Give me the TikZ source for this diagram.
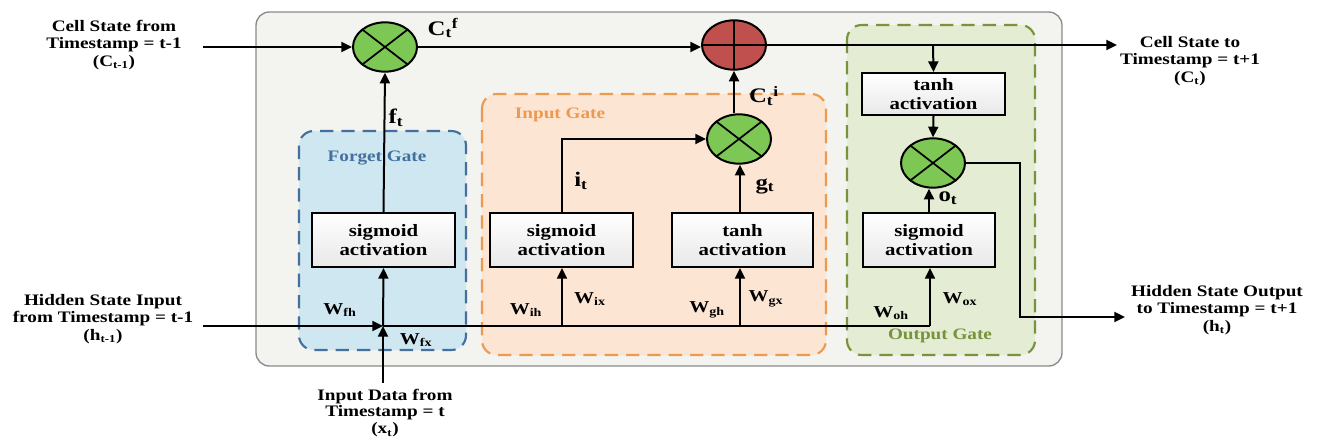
\documentclass[tikz,border=0pt]{standalone}
\usepackage{fontspec}
\setmainfont{Liberation Serif}[FakeStretch=1.2]
\usetikzlibrary{shapes.geometric,arrows.meta}
\definecolor{outerfill}{HTML}{F3F3EF}
\definecolor{outerline}{HTML}{8A8A8A}
\definecolor{fgfill}{HTML}{CFE7F0}
\definecolor{fgline}{HTML}{43709F}
\definecolor{igfill}{HTML}{FDE5D3}
\definecolor{igline}{HTML}{EC9A50}
\definecolor{ogfill}{HTML}{E4ECD4}
\definecolor{ogline}{HTML}{77933C}
\definecolor{mulfill}{HTML}{7DC855}
\definecolor{addfill}{HTML}{C0504D}
\tikzset{
  conn/.style={line width=1.5pt, -{Triangle[length=8pt,width=7.5pt]}},
  plainline/.style={line width=1.5pt},
  actbox/.style={draw, line width=1.5pt, top color=white, bottom color=gray!18,
     minimum width=107pt, minimum height=40.5pt, align=center, inner sep=1pt,
     font=\fontsize{13}{14.5}\selectfont\bfseries},
  mulop/.style={ellipse, draw, line width=1.5pt, fill=mulfill, minimum width=48pt,
     minimum height=37pt, inner sep=0pt,
     path picture={\draw[line width=1.3pt] (path picture bounding box.north west) -- (path picture bounding box.south east)
                   (path picture bounding box.north east) -- (path picture bounding box.south west);}},
  addop/.style={ellipse, draw, line width=1.5pt, fill=addfill, minimum width=48pt,
     minimum height=37pt, inner sep=0pt,
     path picture={\draw[line width=1.3pt] (path picture bounding box.north) -- (path picture bounding box.south)
                   (path picture bounding box.east) -- (path picture bounding box.west);}},
  outtext/.style={align=center, font=\fontsize{12}{13}\selectfont\bfseries, inner sep=0pt},
  symlabel/.style={font=\fontsize{15.5}{16}\selectfont\bfseries, inner sep=0pt},
  wlabel/.style={font=\fontsize{12.5}{13}\selectfont\bfseries, inner sep=0pt},
  gatelabel/.style={font=\fontsize{12}{13}\selectfont\bfseries, inner sep=0pt},
  gatebox/.style={line width=1.6pt, dash pattern=on 10pt off 6pt, rounded corners=11pt},
}
\begin{document}
\begin{tikzpicture}[x=0.75pt,y=-0.75pt]
\useasboundingbox (0,0) rectangle (1317,440);
% outer cell
\draw[outerline, fill=outerfill, line width=1pt, rounded corners=10pt] (256,12) rectangle (1062,366);
% gates
\draw[gatebox, draw=fgline, fill=fgfill] (299,131) rectangle (466,350);
\draw[gatebox, draw=igline, fill=igfill] (482,94) rectangle (826,355);
\draw[gatebox, draw=ogline, fill=ogfill] (847,25) rectangle (1035,355);
\node[gatelabel, text=fgline] (lfg) at (377,158) {Forget Gate};
\node[gatelabel, text=igline] (lig) at (560,115) {Input Gate};
\node[gatelabel, text=ogline] (log) at (940,336) {Output Gate};
% operators
\node[mulop] (mf) at (385,47) {};
\node[addop] (add) at (734,45) {};
\node[mulop] (mi) at (739,139) {};
\node[mulop] (mo) at (933,163) {};
% activation boxes
\node[actbox] (sf) at (383.5,240) {sigmoid\\activation};
\node[actbox] (si) at (561.5,240) {sigmoid\\activation};
\node[actbox, minimum width=106pt] (tg) at (742.5,240) {tanh\\activation};
\node[actbox, minimum width=99pt] (so) at (929,240) {sigmoid\\activation};
\node[actbox, minimum height=31.5pt] (to) at (933.5,94) {tanh\\activation};
% external texts
\node[outtext] (cin) at (114,45) {Cell State from\\Timestamp = t-1\\(C\textsubscript{t-1})};
\node[outtext] (hin) at (103,319) {Hidden State Input\\from Timestamp = t-1\\(h\textsubscript{t-1})};
\node[outtext, font=\fontsize{12}{12.5}\selectfont\bfseries] (xin) at (385,413) {Input Data from\\Timestamp = t\\(x\textsubscript{t})};
\node[outtext] (cout) at (1190,61) {Cell State to\\Timestamp = t+1\\(C\textsubscript{t})};
\node[outtext] (hout) at (1217,310) {Hidden State Output\\to Timestamp = t+1\\(h\textsubscript{t})};
% coordinates
\coordinate (cstart) at (203,47);
\coordinate (cend) at (1117,45);
\coordinate (hstart) at (203,326);
\coordinate (jf) at (383,326);
\coordinate (xstart) at (383,383);
\coordinate (ji) at (562,326);
\coordinate (jg) at (740,326);
\coordinate (jo) at (930,326);
\coordinate (itc) at (562,139);
\coordinate (jc) at (933,45);
\coordinate (hc1) at (1020,163);
\coordinate (hc2) at (1020,317);
\coordinate (hend) at (1125,317);
% cell state path
\draw[conn] (cstart) -- (mf.west);
\draw[conn] (mf.east) -- (add.west |- mf.east);
\draw[conn] (add.east) -- (cend);
\draw[conn] (jc) -- (to.north);
\draw[conn] (to.south) -- (mo.north);
\draw[conn] (mo.east) -- (hc1) -- (hc2) -- (hend);
% hidden state path
\draw[conn] (hstart) -- (jf);
\draw[conn] (xstart) -- (jf);
\draw[plainline] (jf) -- (jo);
\draw[conn] (jf) -- (sf.south);
\draw[conn] (ji) -- (si.south -| ji);
\draw[conn] (jg) -- (tg.south -| jg);
\draw[conn] (jo) -- (so.south -| jo);
% gate outputs
\draw[conn] (sf.north) -- (mf.south);
\draw[conn] (si.north -| itc) -- (itc) -- (mi.west);
\draw[conn] (tg.north -| jg) -- (mi.south -| jg);
\draw[conn] (mi.north -| add.south) -- (add.south);
\draw[conn] (so.north) -- (mo.south -| so.north);
% symbol labels
\node[symlabel] (lcf) at (443,28) {C\textsubscript{t}\textsuperscript{f}};
\node[symlabel] (lci) at (764,96) {C\textsubscript{t}\textsuperscript{i}};
\node[symlabel] (lft) at (396,118) {f\textsubscript{t}};
\node[symlabel] (lit) at (581,181) {i\textsubscript{t}};
\node[symlabel] (lgt) at (765,186) {g\textsubscript{t}};
\node[symlabel] (lot) at (948,198) {o\textsubscript{t}};
% weight labels
\node[wlabel] (wfh) at (340,310) {W\textsubscript{fh}};
\node[wlabel] (wfx) at (416,340) {W\textsubscript{fx}};
\node[wlabel] (wih) at (526,310) {W\textsubscript{ih}};
\node[wlabel] (wix) at (590,299) {W\textsubscript{ix}};
\node[wlabel] (wgh) at (707,310) {W\textsubscript{gh}};
\node[wlabel] (wgx) at (766,299) {W\textsubscript{gx}};
\node[wlabel] (woh) at (891,313) {W\textsubscript{oh}};
\node[wlabel] (wox) at (960,299) {W\textsubscript{ox}};
\end{tikzpicture}
\end{document}
